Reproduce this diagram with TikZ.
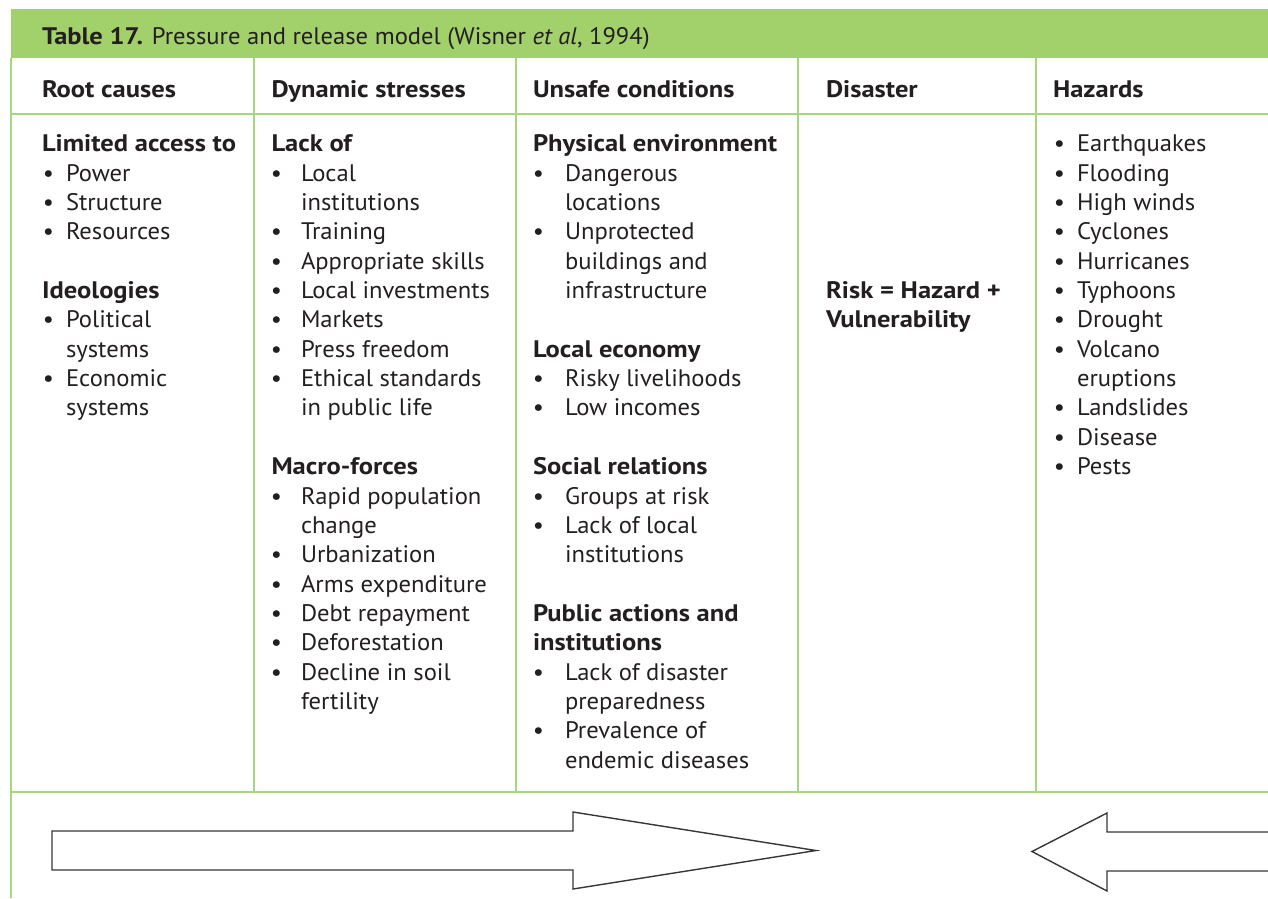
\documentclass[tikz,border=0pt]{standalone}
\usepackage{fontspec}
\setmainfont{PT Sans}[UprightFeatures={FakeStretch=1.03}, ItalicFeatures={FakeStretch=1.03}, BoldFeatures={FakeStretch=1.11}]
\definecolor{band}{RGB}{162,208,106}
\definecolor{rule}{RGB}{168,214,125}
\definecolor{ink}{HTML}{231F20}
\definecolor{arrowink}{RGB}{55,55,55}
\newcommand\Yb[1]{151.7+29.36*#1}
\newcommand\Hd[4]{\node[hd] (#1) at (#2,{\Yb{#3}}) {#4};}
\newcommand\Itm[5]{\node[bul] (#1b) at (#2,{\Yb{#4}}) {\textbullet}; \node[txt] (#1) at (#3,{\Yb{#4}}) {#5};}
\newcommand\Cnt[4]{\node[txt] (#1) at (#2,{\Yb{#3}}) {#4};}
\tikzset{
  base/.style={inner sep=0pt, outer sep=0pt, text=ink, font=\fontsize{23.9}{29.36}\selectfont},
  txt/.style={base, anchor=base west},
  hd/.style={base, anchor=base west, font=\fontsize{23.9}{29.36}\selectfont\bfseries},
  bul/.style={base, anchor=base},
  gridline/.style={draw=rule, line width=1.5pt},
  bigarrow/.style={draw=arrowink, line width=1.4pt, fill=white, line join=miter},
}
\begin{document}
\begin{tikzpicture}[x=1pt,y=-1pt]
\useasboundingbox (0,0) rectangle (1268,898);
% header band
\fill[band] (11,9) rectangle (1268,58);
% rules
\draw[gridline] (11,58) -- (11,898);
\draw[gridline] (11,114) -- (1268,114);
\draw[gridline] (11,792) -- (1268,792);
\foreach \x in {254,516,798,1036} \draw[gridline] (\x,58) -- (\x,792);
% title
\node[txt] (title) at (42,44) {\textbf{Table 17.} Pressure and release model (Wisner \textit{et al}, 1994)};
% column headers
\node[hd] (h1) at (42,97.3) {Root causes};
\node[hd] (h2) at (271.5,97.3) {Dynamic stresses};
\node[hd] (h3) at (533,97.3) {Unsafe conditions};
\node[hd] (h4) at (826,97.3) {Disaster};
\node[hd] (h5) at (1053,97.3) {Hazards};
% column 1
\Hd{a0}{42}{0}{Limited access to}
\Itm{a1}{48.5}{66}{1}{Power}
\Itm{a2}{48.5}{66}{2}{Structure}
\Itm{a3}{48.5}{66}{3}{Resources}
\Hd{a5}{42}{5}{Ideologies}
\Itm{a6}{48.5}{66}{6}{Political}
\Cnt{a7}{66}{7}{systems}
\Itm{a8}{48.5}{66}{8}{Economic}
\Cnt{a9}{66}{9}{systems}
% column 2
\Hd{b0}{271.5}{0}{Lack of}
\Itm{b1}{276.5}{301}{1}{Local}
\Cnt{b2}{301}{2}{institutions}
\Itm{b3}{276.5}{301}{3}{Training}
\Itm{b4}{276.5}{301}{4}{Appropriate skills}
\Itm{b5}{276.5}{301}{5}{Local investments}
\Itm{b6}{276.5}{301}{6}{Markets}
\Itm{b7}{276.5}{301}{7}{Press freedom}
\Itm{b8}{276.5}{301}{8}{Ethical standards}
\Cnt{b9}{301}{9}{in public life}
\Hd{b11}{271.5}{11}{Macro-forces}
\Itm{b12}{276.5}{301}{12}{Rapid population}
\Cnt{b13}{301}{13}{change}
\Itm{b14}{276.5}{301}{14}{Urbanization}
\Itm{b15}{276.5}{301}{15}{Arms expenditure}
\Itm{b16}{276.5}{301}{16}{Debt repayment}
\Itm{b17}{276.5}{301}{17}{Deforestation}
\Itm{b18}{276.5}{301}{18}{Decline in soil}
\Cnt{b19}{301}{19}{fertility}
% column 3
\Hd{c0}{533}{0}{Physical environment}
\Itm{c1}{538.5}{565}{1}{Dangerous}
\Cnt{c2}{565}{2}{locations}
\Itm{c3}{538.5}{565}{3}{Unprotected}
\Cnt{c4}{565}{4}{buildings and}
\Cnt{c5}{565}{5}{infrastructure}
\Hd{c7}{533}{7}{Local economy}
\Itm{c8}{538.5}{565}{8}{Risky livelihoods}
\Itm{c9}{538.5}{565}{9}{Low incomes}
\Hd{c11}{533}{11}{Social relations}
\Itm{c12}{538.5}{565}{12}{Groups at risk}
\Itm{c13}{538.5}{565}{13}{Lack of local}
\Cnt{c14}{565}{14}{institutions}
\Hd{c16}{533}{16}{Public actions and}
\Hd{c17}{533}{17}{institutions}
\Itm{c18}{538.5}{565}{18}{Lack of disaster}
\Cnt{c19}{565}{19}{preparedness}
\Itm{c20}{538.5}{565}{20}{Prevalence of}
\Cnt{c21}{565}{21}{endemic diseases}
% column 4
\Hd{d5}{826}{5}{Risk = Hazard +}
\Hd{d6}{826}{6}{Vulnerability}
% column 5
\Itm{e0}{1059.5}{1077}{0}{Earthquakes}
\Itm{e1}{1059.5}{1077}{1}{Flooding}
\Itm{e2}{1059.5}{1077}{2}{High winds}
\Itm{e3}{1059.5}{1077}{3}{Cyclones}
\Itm{e4}{1059.5}{1077}{4}{Hurricanes}
\Itm{e5}{1059.5}{1077}{5}{Typhoons}
\Itm{e6}{1059.5}{1077}{6}{Drought}
\Itm{e7}{1059.5}{1077}{7}{Volcano}
\Cnt{e8}{1077}{8}{eruptions}
\Itm{e9}{1059.5}{1077}{9}{Landslides}
\Itm{e10}{1059.5}{1077}{10}{Disease}
\Itm{e11}{1059.5}{1077}{11}{Pests}
% arrows
\draw[bigarrow] (52,831) -- (573,831) -- (573,812) -- (816,850.5) -- (573,889) -- (573,870) -- (52,870) -- cycle;
\draw[bigarrow] (1268,832) -- (1107,832) -- (1107,813) -- (1032,851.5) -- (1107,891) -- (1107,871) -- (1268,871);
\end{tikzpicture}
\end{document}
